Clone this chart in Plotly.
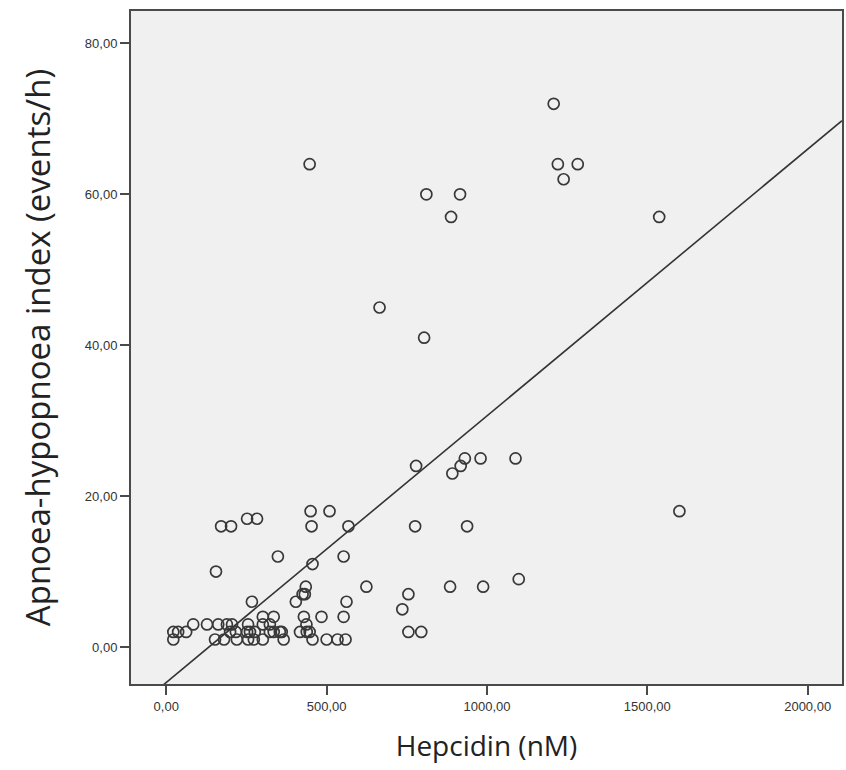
import numpy as np
import plotly.graph_objects as go

# Hepcidin (nM) and apnoea-hypopnoea index (events/h) per patient
hepcidin = [
    1208, 1221, 1283, 1239, 447, 811, 916, 888, 1537, 665, 804,
    779, 918, 931, 980, 1089, 892, 1600, 450, 509,
    171, 202, 453, 568, 776, 938, 252, 283,
    348, 553, 456, 155,
    885, 988, 1099, 624, 435, 432, 425, 755,
    267, 404, 562, 736,
    301, 335, 429, 484, 553,
    84, 127, 162, 189, 205, 255, 301, 323, 437,
    22, 37, 62, 199, 217, 252, 261, 276, 323, 335, 354, 360, 417, 438, 447, 755, 795,
    22, 152, 180, 220, 255, 273, 301, 366, 456, 500, 534, 559,
]
ahi = [
    72, 64, 64, 62, 64, 60, 60, 57, 57, 45, 41,
    24, 24, 25, 25, 25, 23, 18, 18, 18,
    16, 16, 16, 16, 16, 16, 17, 17,
    12, 12, 11, 10,
    8, 8, 9, 8, 8, 7, 7, 7,
    6, 6, 6, 5,
    4, 4, 4, 4, 4,
    3, 3, 3, 3, 3, 3, 3, 3, 3,
    2, 2, 2, 2, 2, 2, 2, 2, 2, 2, 2, 2, 2, 2, 2, 2, 2,
    1, 1, 1, 1, 1, 1, 1, 1, 1, 1, 1, 1,
]

x_ticks = [0, 500, 1000, 1500, 2000]
y_ticks = [0, 20, 40, 60, 80]
x_range = [-110, 2107]
y_range = [-4.9, 84.3]

# Linear least-squares fit line across the full axis width
slope, intercept = np.polyfit(hepcidin, ahi, 1)
fit_x = np.array(x_range)
fit_y = intercept + slope * fit_x

fig = go.Figure()
fig.add_trace(go.Scatter(
    x=fit_x, y=fit_y, mode="lines",
    line=dict(color="#333333", width=1.6),
    hoverinfo="skip", showlegend=False,
))
fig.add_trace(go.Scatter(
    x=hepcidin, y=ahi, mode="markers",
    marker=dict(symbol="circle-open", size=11, color="#383838",
                line=dict(width=1.7, color="#383838")),
    showlegend=False,
))

axis_common = dict(
    showline=True, mirror=True, linecolor="#4a4a4a", linewidth=2,
    ticks="outside", ticklen=9, tickwidth=2, tickcolor="#4a4a4a",
    showgrid=False, zeroline=False, tickformat=".2f",
    tickfont=dict(family="Arial", size=13, color="#333333"),
)

fig.update_layout(
    width=846, height=770,
    margin=dict(l=131, r=2, t=11, b=86),
    paper_bgcolor="white", plot_bgcolor="#f0f0f0",
    separators=",.",
    xaxis=dict(
        range=x_range, tickvals=x_ticks,
        title=dict(text="Hepcidin (nM)", standoff=24,
                   font=dict(family="Open Sans", size=28, color="#222222")),
        **axis_common,
    ),
    yaxis=dict(
        range=y_range, tickvals=y_ticks,
        title=dict(text="Apnoea-hypopnoea index (events/h)", standoff=24,
                   font=dict(family="Open Sans", size=33, color="#222222")),
        **axis_common,
    ),
)

fig.write_html("out.html")
